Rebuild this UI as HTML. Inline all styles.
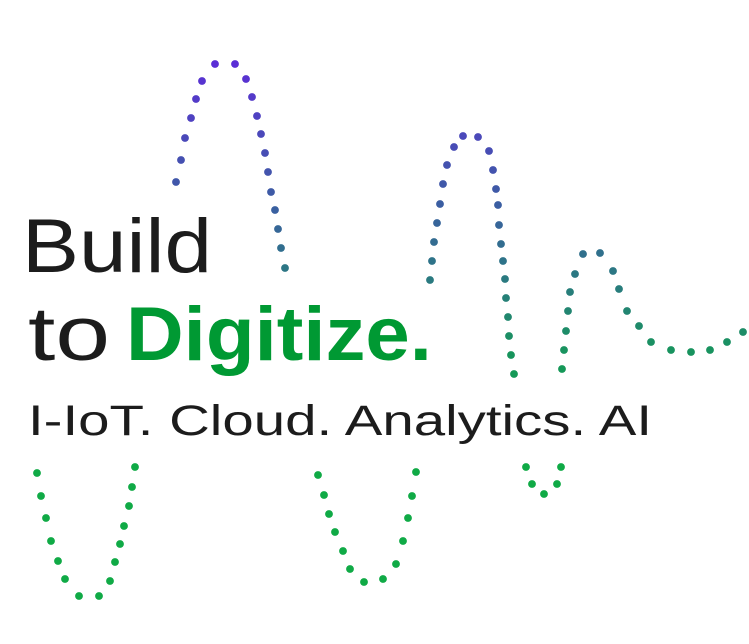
<!DOCTYPE html>
<html><head><meta charset="utf-8"><style>html,body{margin:0;padding:0;background:#fff;}svg{display:block}</style></head>
<body>
<svg width="749" height="644" viewBox="0 0 749 644" xmlns="http://www.w3.org/2000/svg">
<g id="dots"></g>
<text x="22" y="272" font-family="Liberation Sans, sans-serif" font-size="76" fill="#1c1c1c" textLength="190" lengthAdjust="spacingAndGlyphs">Build</text>
<text x="28" y="360" font-family="Liberation Sans, sans-serif" font-size="76" fill="#1c1c1c" textLength="82" lengthAdjust="spacingAndGlyphs">to</text>
<text x="126" y="360" font-family="Liberation Sans, sans-serif" font-size="76" font-weight="bold" fill="#009933" textLength="306" lengthAdjust="spacingAndGlyphs">Digitize.</text>
<text x="28" y="435" font-family="Liberation Sans, sans-serif" font-size="43" fill="#1c1c1c" textLength="624" lengthAdjust="spacingAndGlyphs">I-IoT. Cloud. Analytics. AI</text>
</svg>
<script>
var pts=[[176,182],[181,160],[185,138],[191,118],[196,99],[202,81],[215,64],[235,64],[246,79],[252,97],[257,116],[261,134],[265,153],[268,172],[271,192],[275,210],[278,229],[281,248],[285,268],
[430,280],[432,261],[434,242],[437,223],[440,204],[443,184],[447,165],[454,147],[463,136],[478,137],[489,151],[493,170],[496,189],[498,205],[499,225],[501,244],[503,261],[505,279],[506,298],[508,317],[509,336],[511,355],[514,374],
[562,369],[564,350],[566,331],[568,311],[570,292],[575,274],[583,254],[600,253],[613,271],[619,289],[627,311],[639,326],[651,342],[671,350],[691,352],[710,350],[727,342],[743,332],
[37,473],[41,496],[46,518],[51,541],[58,561],[65,579],[79,596],[99,596],[110,581],[115,562],[120,544],[124,526],[129,506],[132,487],[135,467],
[318,475],[324,495],[329,514],[335,532],[343,551],[350,569],[364,582],[383,579],[396,564],[403,541],[408,518],[412,496],[416,472],
[526,467],[532,484],[544,494],[557,484],[561,467]];
function col(y){var s=[[60,[92,44,216]],[140,[74,74,184]],[210,[58,96,160]],[280,[42,122,128]],[360,[22,150,90]],[460,[16,170,70]]];
if(y<=s[0][0])return s[0][1];for(var i=1;i<s.length;i++){if(y<=s[i][0]){var t=(y-s[i-1][0])/(s[i][0]-s[i-1][0]);var a=s[i-1][1],b=s[i][1];return[a[0]+(b[0]-a[0])*t,a[1]+(b[1]-a[1])*t,a[2]+(b[2]-a[2])*t].map(Math.round);}}return s[s.length-1][1];}
var g=document.getElementById('dots'),h='';
pts.forEach(function(p){var c=col(p[1]);h+='<circle cx="'+p[0]+'" cy="'+p[1]+'" r="3.9" fill="rgb('+c.join(',')+')"/>';});
g.innerHTML=h;
</script>
</body></html>
